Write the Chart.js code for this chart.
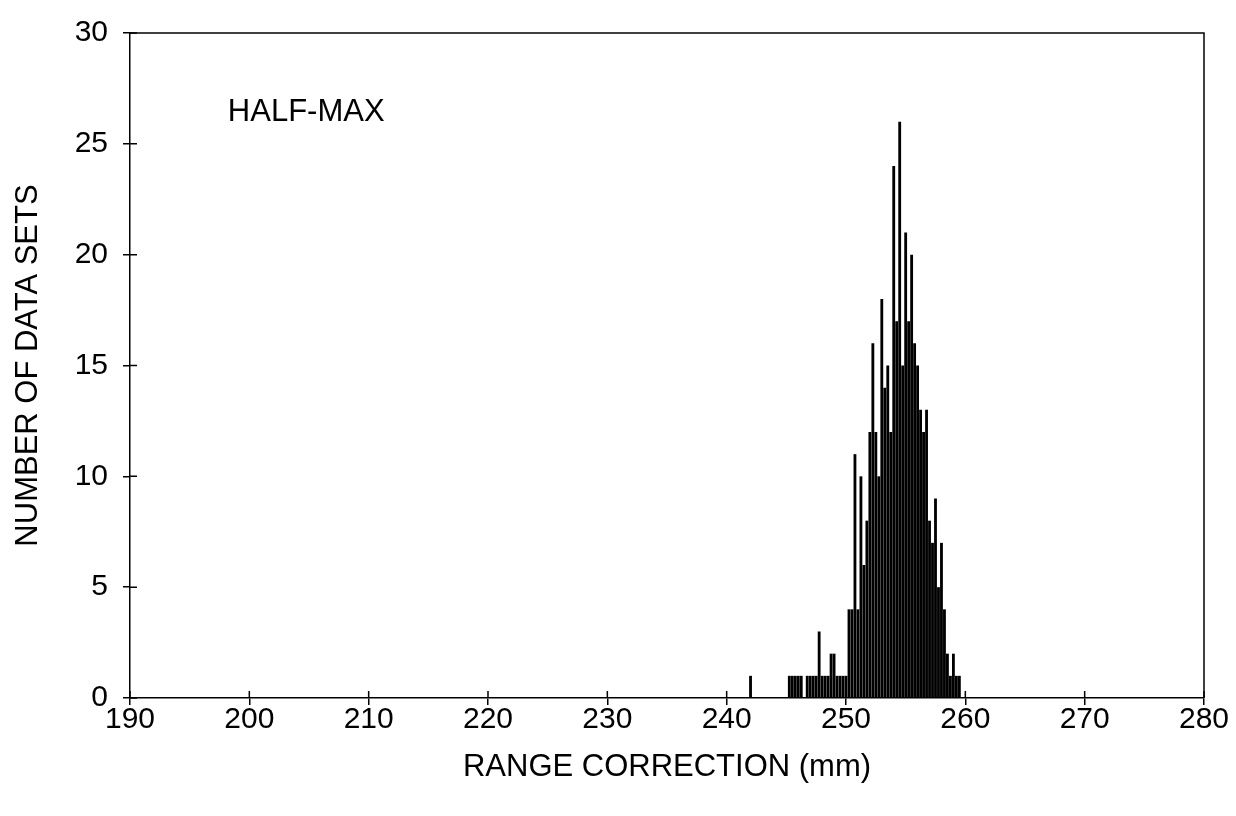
<!DOCTYPE html>
<html>
<head>
<meta charset="utf-8">
<script src="https://cdn.jsdelivr.net/npm/chart.js@4/dist/chart.umd.min.js"></script>
<style>
  html, body { margin: 0; padding: 0; background: #fff; }
  #wrap { width: 1236px; height: 816px; }
</style>
</head>
<body>
<div id="wrap"><canvas id="myChart" width="1236" height="816"></canvas></div>
<script>
// range correction bins (mm) and counts
var binMm = [
  242.0,
  245.25, 245.5, 245.75, 246.0, 246.25, 246.5, 246.75, 247.0, 247.25, 247.5,
  247.75, 248.0, 248.25, 248.5, 248.75, 249.0, 249.25, 249.5, 249.75, 250.0,
  250.25, 250.5, 250.75, 251.0, 251.25, 251.5, 251.75, 252.0, 252.25, 252.5,
  252.75, 253.0, 253.25, 253.5, 253.75, 254.0, 254.25, 254.5, 254.75, 255.0,
  255.25, 255.5, 255.75, 256.0, 256.25, 256.5, 256.75, 257.0, 257.25, 257.5,
  257.75, 258.0, 258.25, 258.5, 258.75, 259.0, 259.25, 259.5
];
var counts = [
  1,
  1, 1, 1, 1, 1, 0, 1, 1, 1, 1,
  3, 1, 1, 1, 2, 2, 1, 1, 1, 1,
  4, 4, 11, 4, 10, 6, 8, 12, 16, 12,
  10, 18, 14, 15, 12, 24, 17, 26, 15, 21,
  17, 20, 16, 15, 13, 12, 13, 8, 7, 9,
  5, 7, 4, 2, 1, 2, 1, 1
];
var xTicks = [190, 200, 210, 220, 230, 240, 250, 260, 270, 280];
var yTicks = [0, 5, 10, 15, 20, 25, 30];
var noteText = 'HALF-MAX';
var notePos = [198.2, 26.4];

var points = [];
for (var i = 0; i < binMm.length; i++) {
  points.push({ x: binMm[i], y: counts[i] });
}

var fontFam = '"Liberation Sans", Arial, Helvetica, sans-serif';

// frame, inner tick stubs and the note
var framePlugin = {
  id: 'frame',
  afterDraw: function(chart) {
    var ctx = chart.ctx;
    var a = chart.chartArea;
    var xs = chart.scales.x, ys = chart.scales.y;
    ctx.save();
    ctx.strokeStyle = '#000';
    ctx.lineWidth = 1.5;
    ctx.beginPath();
    ctx.moveTo(a.left, a.top);
    ctx.lineTo(a.right, a.top);
    ctx.lineTo(a.right, a.bottom);
    ctx.stroke();
    ctx.beginPath();
    xTicks.forEach(function(v) {
      var px = xs.getPixelForValue(v);
      ctx.moveTo(px, a.bottom);
      ctx.lineTo(px, a.bottom - 7);
    });
    yTicks.forEach(function(v) {
      var py = ys.getPixelForValue(v);
      ctx.moveTo(a.left, py);
      ctx.lineTo(a.left + 7, py);
    });
    ctx.stroke();
    ctx.fillStyle = '#000';
    ctx.font = '31px ' + fontFam;
    ctx.textAlign = 'left';
    ctx.textBaseline = 'middle';
    ctx.fillText(noteText, xs.getPixelForValue(notePos[0]), ys.getPixelForValue(notePos[1]));
    ctx.restore();
  }
};

var ctx = document.getElementById('myChart').getContext('2d');
var myChart = new Chart(ctx, {
  type: 'bar',
  data: {
    datasets: [{
      label: 'Data sets',
      data: points,
      backgroundColor: '#000',
      borderWidth: 0,
      barPercentage: 0.95,
      categoryPercentage: 1.0
    }]
  },
  options: {
    responsive: false,
    animation: false,
    layout: { padding: { top: 32, right: 32, left: 0, bottom: 0 } },
    plugins: { legend: { display: false }, tooltip: { enabled: false } },
    scales: {
      x: {
        type: 'linear',
        offset: false,
        min: 190,
        max: 280,
        afterBuildTicks: function(scale) {
          scale.ticks = xTicks.map(function(v) { return { value: v }; });
        },
        afterFit: function(scale) { scale.height = 118; },
        grid: { offset: false, drawOnChartArea: false, color: '#000', tickColor: '#000', tickLength: 7, lineWidth: 1.5 },
        border: { display: true, color: '#000', width: 1.5 },
        ticks: { color: '#000', font: { family: fontFam, size: 30 }, padding: -3, maxRotation: 0, autoSkip: false },
        title: {
          display: true,
          text: 'RANGE CORRECTION (mm)',
          color: '#000',
          font: { family: fontFam, size: 31 },
          padding: { top: 30, bottom: 30 }
        }
      },
      y: {
        min: 0,
        max: 30,
        afterBuildTicks: function(scale) {
          scale.ticks = yTicks.map(function(v) { return { value: v }; });
        },
        afterFit: function(scale) { scale.width = 130; },
        grid: { drawOnChartArea: false, color: '#000', tickColor: '#000', tickLength: 7, lineWidth: 1.5 },
        border: { display: true, color: '#000', width: 1.5 },
        ticks: { color: '#000', font: { family: fontFam, size: 30 }, padding: 15 },
        title: {
          display: true,
          text: 'NUMBER OF DATA SETS',
          color: '#000',
          font: { family: fontFam, size: 31 },
          padding: { top: 10, bottom: 10 }
        }
      }
    }
  },
  plugins: [framePlugin]
});
</script>
</body>
</html>
